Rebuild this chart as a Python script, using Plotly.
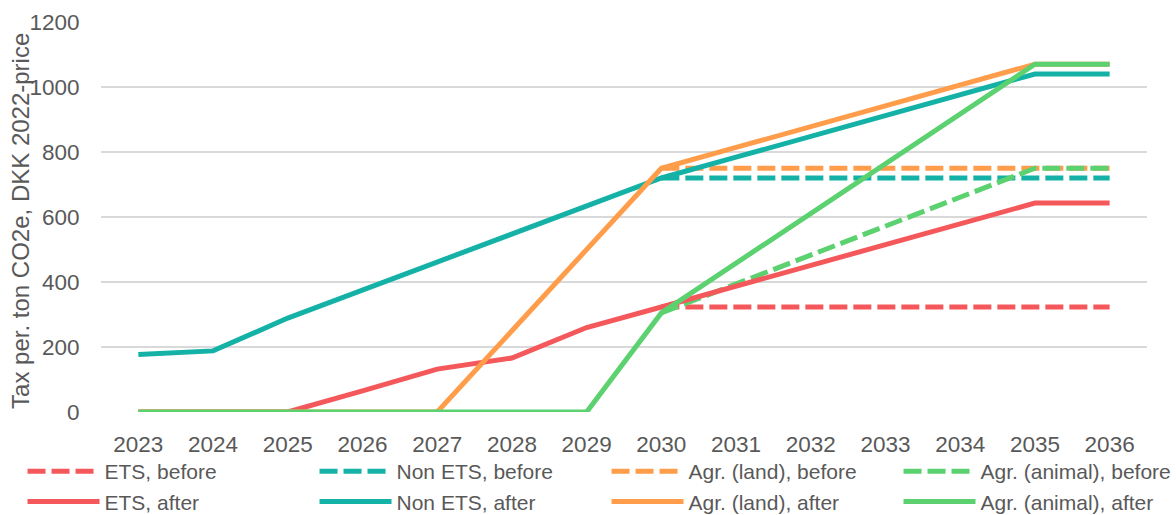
import plotly.graph_objects as go

years = [2023, 2024, 2025, 2026, 2027, 2028, 2029, 2030, 2031, 2032, 2033, 2034, 2035, 2036]

ets_before = [None, None, None, None, None, None, None, 323, 323, 323, 323, 323, 323, 323]
non_ets_before = [None, None, None, None, None, None, None, 720, 720, 720, 720, 720, 720, 720]
land_before = [None, None, None, None, None, None, None, 750, 750, 750, 750, 750, 750, 750]
animal_before = [None, None, None, None, None, None, None, 305, 394, 483, 572, 661, 750, 750]

ets_after = [0, 0, 0, 65, 132, 166, 260, 323, 387, 451, 515, 579, 643, 643]
non_ets_after = [177, 188, 289, 375, 460, 545, 632, 720, 784, 848, 912, 976, 1040, 1040]
land_after = [0, 0, 0, 0, 0, 250, 500, 750, 814, 878, 942, 1006, 1070, 1070]
animal_after = [0, 0, 0, 0, 0, 0, 0, 305, 458, 611, 764, 917, 1070, 1070]

RED = "#F5585B"
TEAL = "#14B1A6"
ORANGE = "#FF9D4B"
GREEN = "#5CD170"
TEXT = "#595959"
FONT = "Liberation Sans, Arial, sans-serif"

series = [
    ("ETS, before", ets_before, RED, "18px,6px"),
    ("Non ETS, before", non_ets_before, TEAL, "18px,6px"),
    ("Agr. (land), before", land_before, ORANGE, "18px,6px"),
    ("Agr. (animal), before", animal_before, GREEN, "18px,6px"),
    ("ETS, after", ets_after, RED, "solid"),
    ("Non ETS, after", non_ets_after, TEAL, "solid"),
    ("Agr. (land), after", land_after, ORANGE, "solid"),
    ("Agr. (animal), after", animal_after, GREEN, "solid"),
]

fig = go.Figure()
for name, vals, color, dash in series:
    fig.add_trace(go.Scatter(
        x=years, y=vals, name=name, mode="lines",
        line=dict(color=color, width=5, dash=dash),
        connectgaps=False,
    ))

plot_w = 1075
fig.update_layout(
    width=1176, height=515,
    margin=dict(l=101, r=0, t=22, b=103, autoexpand=False),
    paper_bgcolor="white", plot_bgcolor="white",
    font=dict(family=FONT, size=21, color=TEXT),
    showlegend=True,
    legend=dict(
        orientation="h", x=-0.073, xanchor="left", y=-0.1, yanchor="top",
        entrywidth=205, entrywidthmode="pixels", itemwidth=72,
        font=dict(family=FONT, size=21, color=TEXT),
        tracegroupgap=0, bgcolor="rgba(0,0,0,0)",
    ),
    xaxis=dict(
        domain=[0, 1046 / plot_w],
        range=[2022.5, 2036.5], tickmode="array", tickvals=years,
        ticktext=[str(y) for y in years],
        showgrid=False, zeroline=False, showline=False,
        ticks="outside", ticklen=12, tickcolor="rgba(0,0,0,0)",
        tickfont=dict(size=22.5, color=TEXT),
    ),
    yaxis=dict(
        range=[0, 1200], tickvals=[0, 200, 400, 600, 800, 1000, 1200],
        showgrid=True, gridcolor="#D9D9D9", gridwidth=1.5,
        zeroline=False, showline=False, ticks="outside", ticklen=16,
        tickcolor="rgba(0,0,0,0)",
        tickfont=dict(size=22.5, color=TEXT),
    ),
    annotations=[dict(
        text="Tax per. ton CO2e, DKK 2022-price",
        xref="paper", yref="paper", x=(21 - 101) / plot_w, y=0.49,
        xanchor="center", yanchor="middle", textangle=-90, showarrow=False,
        font=dict(family=FONT, size=24, color=TEXT),
    )],
)

fig.write_html("out.html")
